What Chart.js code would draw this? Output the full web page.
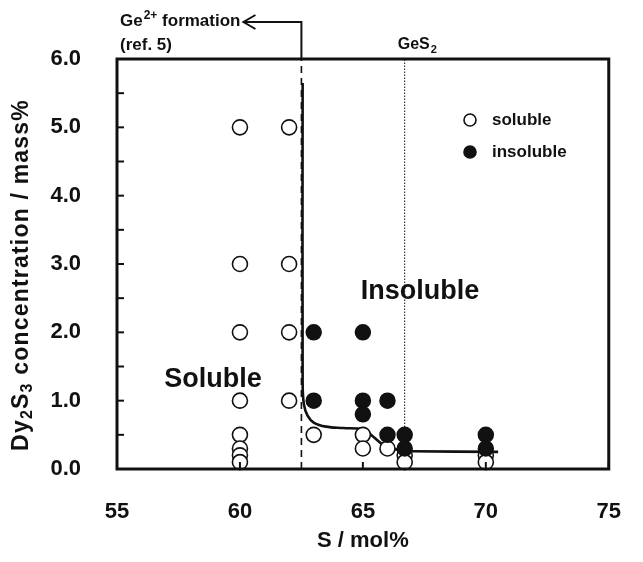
<!DOCTYPE html>
<html>
<head>
<meta charset="utf-8">
<script src="https://cdn.jsdelivr.net/npm/chart.js@4.4.1/dist/chart.umd.min.js"></script>
<style>
  html, body { margin: 0; padding: 0; background: #fff; }
  #wrap { width: 643px; height: 562px; position: relative; }
</style>
</head>
<body>
<div id="wrap"><canvas id="c" width="643" height="562"></canvas></div>
<script>
// ---- Data ----
const xTicks = [55, 60, 65, 70, 75];
const yTicks = [0, 1, 2, 3, 4, 5, 6];

const solubleX = [60, 60, 60, 60, 60, 60, 60, 60, 62, 62, 62, 62, 63, 65, 65, 66, 66.7, 66.7, 70, 70];
const solubleY = [5.0, 3.0, 2.0, 1.0, 0.5, 0.3, 0.2, 0.1, 5.0, 3.0, 2.0, 1.0, 0.5, 0.5, 0.3, 0.3, 0.2, 0.1, 0.2, 0.1];

const insolubleX = [63, 63, 65, 65, 65, 66, 66, 66.7, 66.7, 70, 70];
const insolubleY = [2.0, 1.0, 2.0, 1.0, 0.8, 1.0, 0.5, 0.5, 0.3, 0.5, 0.3];

const boundaryX = [62.55, 62.55, 62.6, 62.75, 63.0, 63.5, 64.2, 65.0, 65.4, 65.8, 66.2, 66.6, 67.0, 70.5];
const boundaryY = [5.65, 1.25, 0.95, 0.78, 0.68, 0.62, 0.60, 0.58, 0.48, 0.36, 0.30, 0.27, 0.26, 0.25];

const ge2Line = 62.5;   // Ge2+ formation
const ges2Line = 66.7;  // GeS2
const legendOrder = ['soluble', 'insoluble'];

const zip = (xs, ys) => xs.map((x, i) => ({ x, y: ys[i] }));

const FONT = "'Liberation Sans', Arial, sans-serif";
const INK = '#111';

const decor = {
  id: 'decor',
  beforeDatasetsDraw(chart) {
    const { ctx, chartArea: a, scales: { x } } = chart;
    ctx.save();
    ctx.strokeStyle = INK;
    const xg = x.getPixelForValue(ge2Line);
    ctx.lineWidth = 1.6;
    ctx.setLineDash([7, 5]);
    ctx.beginPath(); ctx.moveTo(xg, a.bottom); ctx.lineTo(xg, a.top); ctx.stroke();
    const xs = x.getPixelForValue(ges2Line);
    ctx.lineWidth = 1;
    ctx.setLineDash([1.5, 1.5]);
    ctx.beginPath(); ctx.moveTo(xs, a.bottom); ctx.lineTo(xs, a.top); ctx.stroke();
    ctx.restore();
  },
  afterDraw(chart) {
    const { ctx, chartArea: a, scales: { x, y } } = chart;
    ctx.save();
    ctx.strokeStyle = INK; ctx.fillStyle = INK;
    ctx.lineWidth = 3;
    ctx.strokeRect(a.left, a.top, a.right - a.left, a.bottom - a.top);
    ctx.lineWidth = 2;
    for (let v = 0.5; v < 6; v += 0.5) {
      const py = y.getPixelForValue(v);
      ctx.beginPath(); ctx.moveTo(a.left, py); ctx.lineTo(a.left + 7, py); ctx.stroke();
    }
    xTicks.forEach(v => {
      const px = x.getPixelForValue(v);
      ctx.beginPath(); ctx.moveTo(px, a.bottom); ctx.lineTo(px, a.bottom - 7); ctx.stroke();
    });

    // texts
    ctx.textBaseline = 'middle';
    ctx.textAlign = 'left';
    const annF = `bold 17px ${FONT}`, annS = `bold 12px ${FONT}`;
    ctx.font = annF;
    let tx = 120;
    ctx.fillText('Ge', tx, 21); tx += ctx.measureText('Ge').width;
    ctx.font = annS;
    ctx.fillText('2+', tx + 1, 16); tx += ctx.measureText('2+').width + 1;
    ctx.font = annF;
    ctx.fillText(' formation', tx, 21); tx += ctx.measureText(' formation').width;
    ctx.fillText('(ref. 5)', 120, 45);

    // Ge2+ line above frame + arrow
    const xg = x.getPixelForValue(ge2Line);
    const arrowY = 22, tipX = tx + 3;
    ctx.lineWidth = 2;
    ctx.beginPath(); ctx.moveTo(xg, a.top); ctx.lineTo(xg, arrowY); ctx.lineTo(tipX, arrowY); ctx.stroke();
    ctx.beginPath(); ctx.moveTo(tipX + 12, arrowY - 7); ctx.lineTo(tipX, arrowY); ctx.lineTo(tipX + 12, arrowY + 7); ctx.stroke();

    // GeS2
    ctx.font = `bold 16px ${FONT}`;
    let gx = x.getPixelForValue(ges2Line) - 7;
    ctx.fillText('GeS', gx, 45); gx += ctx.measureText('GeS').width;
    ctx.font = `bold 11px ${FONT}`;
    ctx.fillText('2', gx + 1, 50);

    // region labels
    ctx.font = `bold 27px ${FONT}`;
    ctx.textAlign = 'center';
    ctx.fillText('Soluble', 213, 380);
    ctx.fillText('Insoluble', 420, 292);

    // legend
    ctx.textAlign = 'left';
    ctx.font = `bold 17px ${FONT}`;
    legendOrder.forEach((name, i) => {
      const d = chart.data.datasets.find(ds => ds.label === name);
      const ly = 120 + i * 32;
      ctx.beginPath();
      ctx.arc(470, ly, 6, 0, Math.PI * 2);
      ctx.fillStyle = d.backgroundColor; ctx.fill();
      ctx.lineWidth = 1.6; ctx.strokeStyle = INK; ctx.stroke();
      ctx.fillStyle = INK;
      ctx.fillText(d.label, 492, ly);
    });

    // y-axis title with subscripts
    ctx.save();
    ctx.translate(22, 275);
    ctx.rotate(-Math.PI / 2);
    ctx.letterSpacing = '1.2px';
    const parts = [
      { t: 'Dy', s: false }, { t: '2', s: true }, { t: 'S', s: false }, { t: '3', s: true },
      { t: ' concentration / mass%', s: false }
    ];
    const big = `bold 23px ${FONT}`, small = `bold 16px ${FONT}`;
    let total = 0;
    parts.forEach(p => { ctx.font = p.s ? small : big; total += ctx.measureText(p.t).width; });
    let px = -total / 2;
    ctx.textAlign = 'left';
    parts.forEach(p => {
      ctx.font = p.s ? small : big;
      ctx.fillText(p.t, px, p.s ? 6 : 0);
      px += ctx.measureText(p.t).width;
    });
    ctx.restore();
    ctx.restore();
  }
};

new Chart(document.getElementById('c'), {
  type: 'scatter',
  data: {
    datasets: [
      {
        label: 'insoluble',
        data: zip(insolubleX, insolubleY),
        backgroundColor: INK, borderColor: INK, borderWidth: 1.5,
        pointRadius: 7.5, order: 0
      },
      {
        label: 'soluble',
        data: zip(solubleX, solubleY),
        backgroundColor: '#fff', borderColor: INK, borderWidth: 1.6,
        pointRadius: 7.5, order: 1
      },
      {
        label: 'boundary',
        data: zip(boundaryX, boundaryY),
        showLine: true, borderColor: INK, borderWidth: 2.6,
        pointRadius: 0, tension: 0.35, order: 2
      }
    ]
  },
  options: {
    responsive: false,
    animation: false,
    clip: false,
    layout: { padding: { top: 59, right: 13, left: 0, bottom: 0 } },
    plugins: { legend: { display: false }, tooltip: { enabled: false } },
    scales: {
      x: {
        type: 'linear', min: 55, max: 75,
        afterBuildTicks: s => { s.ticks = xTicks.map(v => ({ value: v })); },
        afterFit: s => { s.height = 93; },
        grid: { display: false }, border: { display: false },
        ticks: { color: INK, padding: 22, font: { family: FONT, size: 22, weight: 'bold' }, callback: v => String(v) },
        title: { display: true, text: 'S / mol%', color: INK, font: { family: FONT, size: 22, weight: 'bold' }, padding: { top: 0, bottom: 8 } }
      },
      y: {
        type: 'linear', min: 0, max: 6,
        afterBuildTicks: s => { s.ticks = yTicks.map(v => ({ value: v })); },
        afterFit: s => { s.width = 117; },
        grid: { display: false }, border: { display: false },
        ticks: { color: INK, padding: 28, font: { family: FONT, size: 22, weight: 'bold' }, callback: v => Number(v).toFixed(1) }
      }
    }
  },
  plugins: [decor]
});
</script>
</body>
</html>
